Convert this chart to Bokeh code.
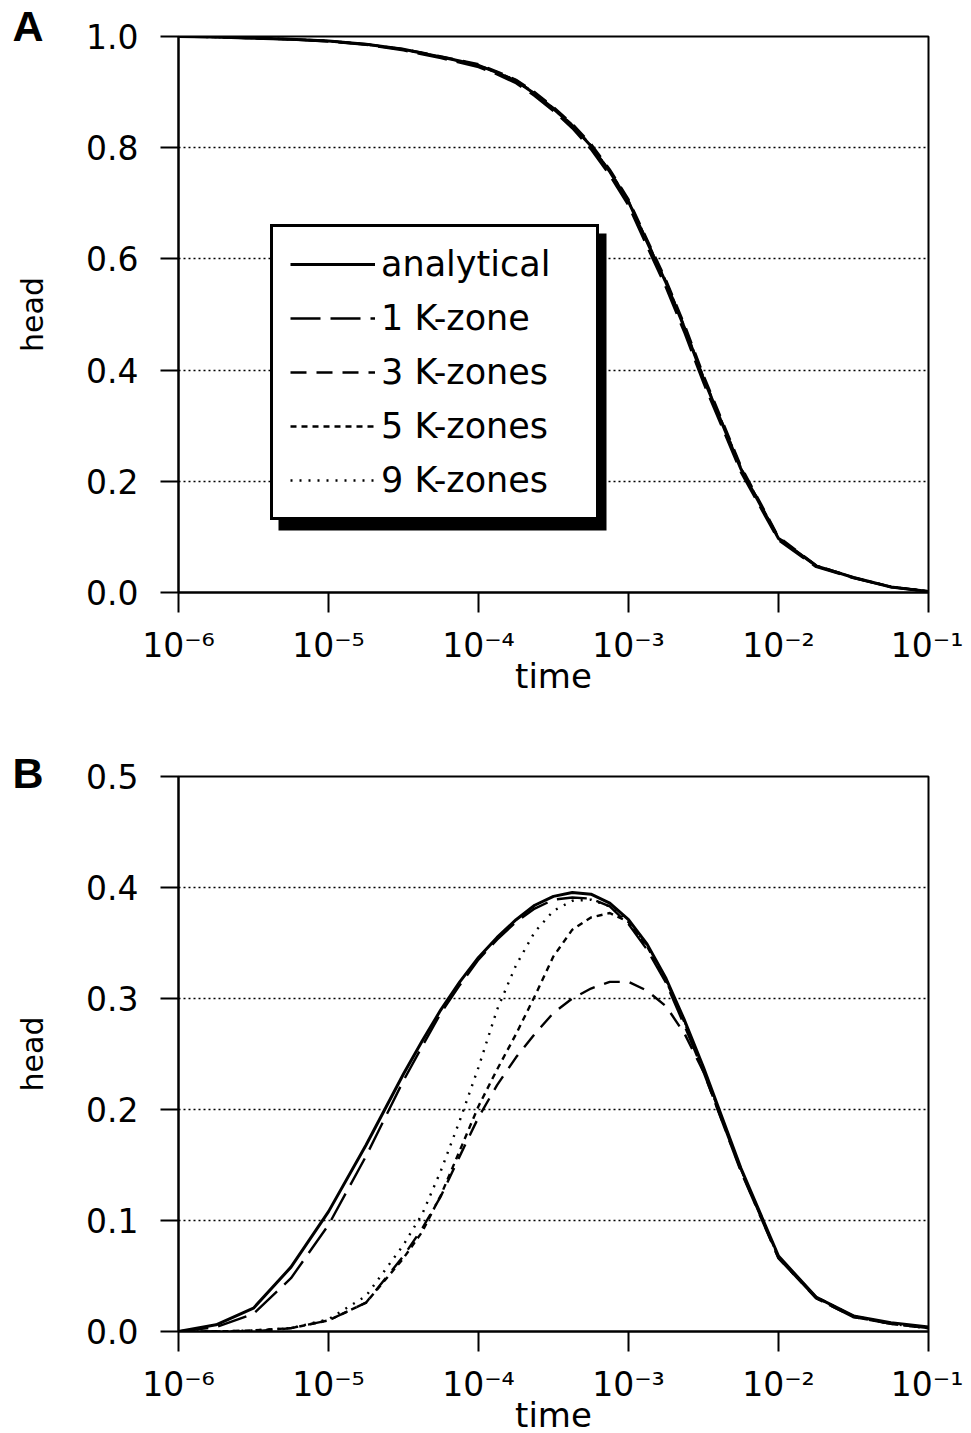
from bokeh.plotting import figure
from bokeh.layouts import column
from bokeh.models import (Range1d, FixedTicker, PrintfTickFormatter, CustomJSTickFormatter,
                          Legend, LegendItem, BoxAnnotation, ColumnDataSource)
from bokeh.embed import file_html
from bokeh.resources import INLINE

# ---------------- data ----------------
time = [1.0e-6, 1.78e-6, 3.16e-6, 5.62e-6,
        1.0e-5, 1.78e-5, 3.16e-5, 4.22e-5, 5.62e-5, 7.5e-5,
        1.0e-4, 1.33e-4, 1.78e-4, 2.37e-4, 3.16e-4, 4.22e-4, 5.62e-4, 7.5e-4,
        1.0e-3, 1.33e-3, 1.78e-3, 2.37e-3, 3.16e-3, 5.62e-3,
        1.0e-2, 1.78e-2, 3.16e-2, 5.62e-2, 1.0e-1]

series_labels = ["analytical", "1 K-zone", "3 K-zones", "5 K-zones", "9 K-zones"]

# Panel A
a_analytical = [1.000, 0.999, 0.997, 0.995, 0.992, 0.986, 0.977, 0.970, 0.963, 0.956,
                0.948, 0.935, 0.920, 0.897, 0.870, 0.840, 0.803, 0.757,
                0.703, 0.630, 0.557, 0.475, 0.385, 0.222,
                0.097, 0.048, 0.027, 0.010, 0.002]
a_k1 = [1.000, 0.999, 0.997, 0.995, 0.991, 0.985, 0.975, 0.968, 0.961, 0.953,
        0.945, 0.932, 0.916, 0.893, 0.866, 0.835, 0.797, 0.750,
        0.696, 0.622, 0.548, 0.466, 0.377, 0.216,
        0.094, 0.046, 0.026, 0.010, 0.002]
a_k3 = [1.000, 0.999, 0.997, 0.995, 0.992, 0.986, 0.977, 0.971, 0.964, 0.957,
        0.950, 0.937, 0.922, 0.900, 0.873, 0.843, 0.807, 0.761,
        0.707, 0.635, 0.562, 0.481, 0.391, 0.227,
        0.100, 0.049, 0.027, 0.010, 0.002]
a_k5 = [1.000, 0.999, 0.997, 0.995, 0.992, 0.986, 0.977, 0.970, 0.963, 0.956,
        0.948, 0.936, 0.921, 0.898, 0.871, 0.841, 0.804, 0.758,
        0.704, 0.632, 0.559, 0.477, 0.387, 0.224,
        0.098, 0.048, 0.027, 0.010, 0.002]
a_k9 = [1.000, 0.999, 0.997, 0.995, 0.992, 0.986, 0.977, 0.970, 0.963, 0.956,
        0.948, 0.935, 0.920, 0.897, 0.870, 0.840, 0.803, 0.758,
        0.703, 0.631, 0.558, 0.476, 0.386, 0.223,
        0.098, 0.048, 0.027, 0.010, 0.002]

# Panel B
b_analytical = [0.000, 0.006, 0.021, 0.058, 0.108, 0.168, 0.232, 0.262, 0.290, 0.315,
                0.337, 0.355, 0.371, 0.384, 0.392, 0.3955, 0.394, 0.386,
                0.371, 0.349, 0.318, 0.280, 0.238, 0.147,
                0.068, 0.031, 0.014, 0.008, 0.004]
b_k1 = [0.000, 0.004, 0.016, 0.048, 0.096, 0.158, 0.226, 0.257, 0.287, 0.312,
        0.335, 0.353, 0.369, 0.381, 0.389, 0.391, 0.390, 0.383,
        0.367, 0.344, 0.314, 0.275, 0.234, 0.144,
        0.066, 0.030, 0.013, 0.007, 0.003]
b_k3 = [0.000, 0.000, 0.000, 0.003, 0.010, 0.026, 0.068, 0.093, 0.122, 0.158,
        0.193, 0.222, 0.247, 0.268, 0.287, 0.300, 0.309, 0.315,
        0.315, 0.307, 0.293, 0.268, 0.234, 0.145,
        0.066, 0.030, 0.013, 0.007, 0.003]
b_k5 = [0.000, 0.000, 0.001, 0.003, 0.010, 0.026, 0.066, 0.090, 0.123, 0.163,
        0.203, 0.236, 0.268, 0.302, 0.338, 0.362, 0.373, 0.377,
        0.369, 0.347, 0.316, 0.278, 0.236, 0.146,
        0.067, 0.031, 0.014, 0.007, 0.003]
b_k9 = [0.000, 0.000, 0.001, 0.003, 0.011, 0.032, 0.078, 0.106, 0.145, 0.190,
        0.238, 0.290, 0.330, 0.360, 0.379, 0.388, 0.389, 0.383,
        0.369, 0.348, 0.317, 0.279, 0.237, 0.146,
        0.067, 0.031, 0.014, 0.007, 0.003]

xtick_values = [1e-6, 1e-5, 1e-4, 1e-3, 1e-2, 1e-1]
xtick_labels = ["10⁻⁶", "10⁻⁵", "10⁻⁴", "10⁻³", "10⁻²", "10⁻¹"]

a_yticks = [0.0, 0.2, 0.4, 0.6, 0.8, 1.0]
a_ygrid = [0.2, 0.4, 0.6, 0.8]
b_yticks = [0.0, 0.1, 0.2, 0.3, 0.4, 0.5]
b_ygrid = [0.1, 0.2, 0.3, 0.4]

panel_letters = ["A", "B"]

# ---------------- styles ----------------
dashes = ["solid", "30 10", "16 10", "6 5", "2 7"]
widths = [3.0, 2.4, 2.4, 2.4, 2.4]
FONT = "DejaVu Sans"


def make_panel(ymax, yticks, ygrid, ys, letter, frame_h, border_top, border_bottom,
               letter_standoff, with_legend):
    src = ColumnDataSource(dict(time=time, s0=ys[0], s1=ys[1], s2=ys[2], s3=ys[3], s4=ys[4]))
    p = figure(x_axis_type="log", x_range=Range1d(1e-6, 1e-1), y_range=Range1d(0, ymax),
               frame_width=750, frame_height=frame_h,
               min_border_left=178, min_border_right=35, min_border_top=border_top,
               min_border_bottom=border_bottom, title=letter,
               output_backend="svg", toolbar_location=None)
    p.background_fill_color = "white"
    p.border_fill_color = "white"
    p.outline_line_color = "black"
    p.outline_line_width = 2
    p.outline_line_alpha = 1

    # panel letter as the title, pulled to the left margin
    p.title.align = "left"
    p.title.offset = -166
    p.title.standoff = letter_standoff
    p.title.text_font = "Liberation Sans"
    p.title.text_font_style = "bold"
    p.title.text_font_size = "43px"
    p.title.text_color = "black"

    p.xgrid.visible = False
    p.ygrid.ticker = FixedTicker(ticks=ygrid, minor_ticks=[])
    p.ygrid.grid_line_color = "black"
    p.ygrid.grid_line_dash = "2 3"
    p.ygrid.grid_line_width = 1.6
    p.ygrid.grid_line_alpha = 1

    xa = p.xaxis[0]
    xa.ticker = FixedTicker(ticks=xtick_values, minor_ticks=[])
    xa.formatter = CustomJSTickFormatter(
        args=dict(vals=xtick_values, labels=xtick_labels),
        code="""
        for (let i = 0; i < vals.length; i++) {
            if (Math.abs(Math.log10(tick) - Math.log10(vals[i])) < 1e-6) return labels[i];
        }
        return "";
        """)
    xa.axis_label = "time"
    xa.major_tick_out = 20
    xa.major_label_standoff = 13
    xa.major_label_text_font_size = "33px"
    xa.axis_label_standoff = -12
    xa.axis_label_text_font_size = "34px"

    ya = p.yaxis[0]
    ya.ticker = FixedTicker(ticks=yticks, minor_ticks=[])
    ya.formatter = PrintfTickFormatter(format="%.1f")
    ya.axis_label = "head"
    ya.major_tick_out = 18
    ya.major_label_standoff = 22
    ya.major_label_text_font_size = "33px"
    ya.axis_label_standoff = 33
    ya.axis_label_text_font_size = "30px"

    for ax in (xa, ya):
        ax.axis_line_color = "black"
        ax.axis_line_width = 2
        ax.major_tick_line_color = "black"
        ax.major_tick_line_width = 2
        ax.major_tick_in = 0
        ax.minor_tick_line_color = None
        ax.major_label_text_font = FONT
        ax.major_label_text_color = "black"
        ax.axis_label_text_font = FONT
        ax.axis_label_text_font_style = "normal"
        ax.axis_label_text_color = "black"

    renderers = []
    for i in range(5):
        r = p.line(x="time", y="s%d" % i, source=src, line_color="black",
                   line_width=widths[i], line_dash=dashes[i])
        renderers.append(r)

    if with_legend:
        shadow = BoxAnnotation(left=100, right=428, top=359, bottom=62,
                               left_units="screen", right_units="screen",
                               top_units="screen", bottom_units="screen",
                               fill_color="black", fill_alpha=1, line_color=None)
        p.add_layout(shadow)
        legend = Legend(items=[LegendItem(label=series_labels[i], renderers=[renderers[i]])
                               for i in range(5)],
                        location=(92, 72), orientation="vertical",
                        border_line_color="black", border_line_width=3, border_line_alpha=1,
                        background_fill_color="white", background_fill_alpha=1,
                        padding=17, spacing=14, margin=0,
                        glyph_width=85, glyph_height=40, label_height=40, label_width=198,
                        label_standoff=6, label_text_font=FONT, label_text_font_size="35px",
                        label_text_color="black")
        p.add_layout(legend)
    return p


pA = make_panel(1.0, a_yticks, a_ygrid, [a_analytical, a_k1, a_k3, a_k5, a_k9],
                panel_letters[0], 556, 36, 156, -26, True)
pB = make_panel(0.5, b_yticks, b_ygrid, [b_analytical, b_k1, b_k3, b_k5, b_k9],
                panel_letters[1], 555, 28, 94, -40, False)

layout = column(pA, pB, spacing=0)
open("out.html", "w").write(file_html(layout, INLINE))
